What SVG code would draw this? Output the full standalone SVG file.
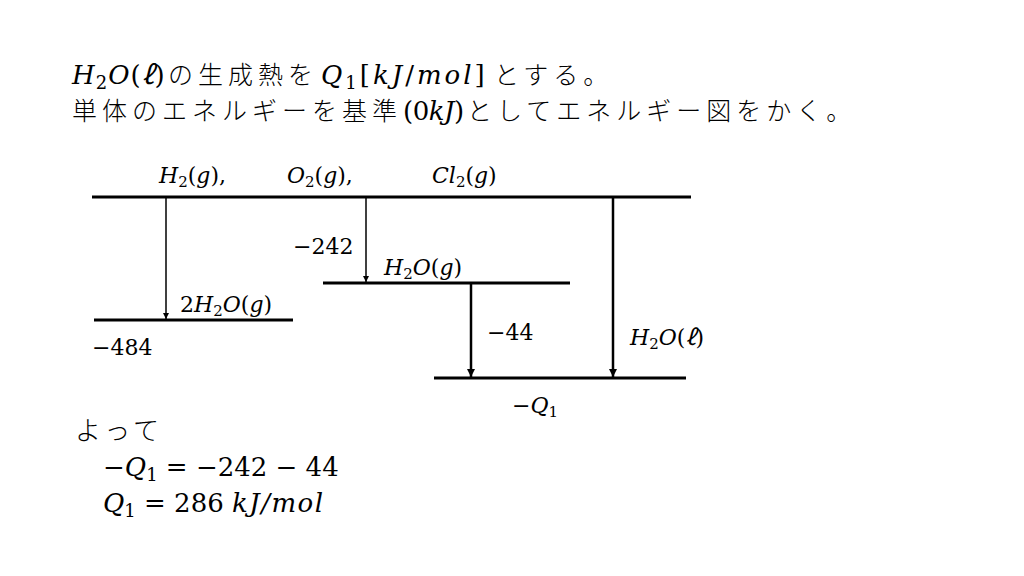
<svg xmlns="http://www.w3.org/2000/svg" width="1024" height="576" viewBox="0 0 1024 576">
<defs>
<style>
.t{font-family:"DejaVu Serif","Noto Sans CJK JP",serif;fill:#000}
.j{font-family:"Noto Sans CJK JP",sans-serif;font-weight:300;letter-spacing:4px}
.j5{font-family:"Noto Sans CJK JP",sans-serif;font-weight:300;letter-spacing:5px;font-size:25px}
.i{font-style:italic}
.lvl{stroke:#000;stroke-width:3;fill:none}
.ar{stroke:#000;fill:none}
</style>
<marker id="ah" viewBox="0 0 10 10" refX="10" refY="5" markerWidth="6" markerHeight="7" markerUnits="userSpaceOnUse" orient="auto"><path d="M0,0 L10,5 L0,10 z" fill="#000"/></marker>
<marker id="ah2" viewBox="0 0 10 10" refX="10" refY="5" markerWidth="10" markerHeight="8" markerUnits="userSpaceOnUse" orient="auto"><path d="M0,0 L10,5 L0,10 z" fill="#000"/></marker>
</defs>
<rect width="1024" height="576" fill="#fff"/>
<g id="title" class="t" font-size="26">
<text x="72" y="84" letter-spacing="1"><tspan class="i">H</tspan><tspan font-size="18" dy="5">2</tspan><tspan class="i" dy="-5">O</tspan>(<tspan class="i">ℓ</tspan>)</text>
<text x="168" y="84" class="j5">の生成熱を</text>
<text x="321" y="84" letter-spacing="3"><tspan class="i">Q</tspan><tspan font-size="18" dy="5">1</tspan><tspan dy="-5">[</tspan><tspan class="i">kJ</tspan>/<tspan class="i">mol</tspan>]</text>
<text x="494" y="84" class="j5">とする。</text>
<text x="72" y="120" class="j5">単体のエネルギーを基準</text>
<text x="403" y="120" letter-spacing="-0.5">(0<tspan class="i">kJ</tspan>)</text>
<text x="467" y="120" class="j5">としてエネルギー図をかく。</text>
</g>
<g id="connectors">
<line class="ar" x1="166" y1="197" x2="166" y2="319" stroke-width="1.5" marker-end="url(#ah)"/>
<line class="ar" x1="366" y1="197" x2="366" y2="282" stroke-width="1.5" marker-end="url(#ah)"/>
<line class="ar" x1="471" y1="284" x2="471" y2="377" stroke-width="2.5" marker-end="url(#ah2)"/>
<line class="ar" x1="613" y1="198" x2="613" y2="377" stroke-width="2.5" marker-end="url(#ah2)"/>
</g>
<g id="level-elements">
<line class="lvl" x1="92" y1="197" x2="691" y2="197"/>
<text class="t" x="159" y="183" font-size="22"><tspan class="i">H</tspan><tspan font-size="15" dy="4">2</tspan><tspan dy="-4">(</tspan><tspan class="i">g</tspan>),</text>
<text class="t" x="287" y="183" font-size="22"><tspan class="i">O</tspan><tspan font-size="15" dy="4">2</tspan><tspan dy="-4">(</tspan><tspan class="i">g</tspan>),</text>
<text class="t" x="432" y="183" font-size="22"><tspan class="i">Cl</tspan><tspan font-size="15" dy="4">2</tspan><tspan dy="-4">(</tspan><tspan class="i">g</tspan>)</text>
</g>
<g id="level-2h2o-g">
<line class="lvl" x1="94" y1="320" x2="293" y2="320"/>
<text class="t" x="180" y="312" font-size="22">2<tspan class="i">H</tspan><tspan font-size="15" dy="4">2</tspan><tspan class="i" dy="-4">O</tspan>(<tspan class="i">g</tspan>)</text>
<text class="t" x="92" y="355" font-size="22">−484</text>
</g>
<g id="level-h2o-g">
<line class="lvl" x1="323" y1="283" x2="570" y2="283"/>
<text class="t" x="384" y="275" font-size="22"><tspan class="i">H</tspan><tspan font-size="15" dy="4">2</tspan><tspan class="i" dy="-4">O</tspan>(<tspan class="i">g</tspan>)</text>
<text class="t" x="293" y="254" font-size="22">−242</text>
</g>
<g id="level-h2o-l">
<line class="lvl" x1="434" y1="378" x2="686" y2="378"/>
<text class="t" x="487" y="340" font-size="22">−44</text>
<text class="t" x="630" y="345" font-size="22"><tspan class="i">H</tspan><tspan font-size="15" dy="4">2</tspan><tspan class="i" dy="-4">O</tspan>(<tspan class="i">ℓ</tspan>)</text>
<text class="t" x="512" y="413" font-size="22">−<tspan class="i">Q</tspan><tspan font-size="15" dy="4">1</tspan></text>
</g>
<g id="conclusion" class="t" font-size="26">
<text x="75" y="440" class="j">よって</text>
<text x="103" y="476">−<tspan class="i">Q</tspan><tspan font-size="18" dy="5">1</tspan><tspan dy="-5"> = −242 − 44</tspan></text>
<text x="103" y="512"><tspan class="i">Q</tspan><tspan font-size="18" dy="5">1</tspan><tspan dy="-5"> = 286 </tspan><tspan class="i" letter-spacing="1.5">kJ/mol</tspan></text>
</g>
</svg>
